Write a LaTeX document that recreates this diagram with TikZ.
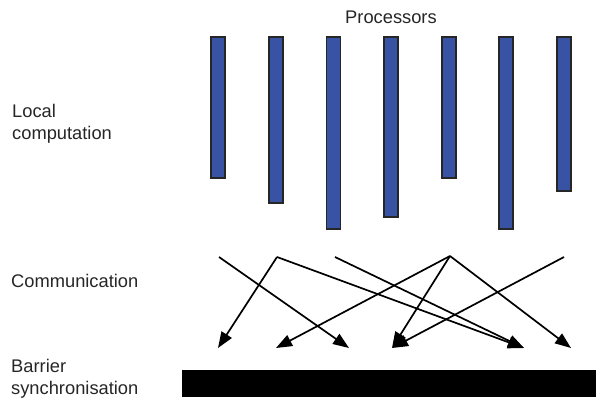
\documentclass[tikz,border=0pt]{standalone}
\usepackage{fontspec}
\setmainfont{Liberation Sans}
\usetikzlibrary{arrows.meta}
\definecolor{procblue}{RGB}{57,83,164}

\begin{document}
\begin{tikzpicture}[x = 1pt, y = -1pt,
	proc/.style = {draw = black!85, line width = 1.2pt, fill = procblue},
	msg/.style = {line width = 1.7pt, -{Triangle[length = 16pt, width = 12pt]}},
	lbl/.style = {anchor = base west, inner sep = 0pt, text = black!85, align = left, font = \fontsize{18.3}{21.5}\selectfont}]

	\useasboundingbox (0, 0) rectangle (596, 404);

	\node[lbl] (title) at (345, 24) {Processors};
	\node[lbl] (local) at (12, 139) {Local\\computation};
	\node[lbl] (comm) at (11, 287) {Communication};
	\node[lbl] (barrier) at (11, 394) {Barrier\\synchronisation};

	\foreach \x/\b in {218/178, 276/203, 333.5/229, 391/217, 449/178, 506/229, 564/191}
		\draw[proc] (\x - 7, 37) rectangle (\x + 7, \b);

	\fill[black] (182, 370) rectangle (596, 397);

	\coordinate (s1) at (219, 257);
	\coordinate (s2) at (277, 257);
	\coordinate (s3) at (335, 257);
	\coordinate (s4) at (450, 256);
	\coordinate (s5) at (564, 257);

	\coordinate (t1) at (218, 348);
	\coordinate (t2) at (276, 348);
	\coordinate (t3) at (349, 348);
	\coordinate (t4) at (392, 348);
	\coordinate (t5) at (524, 348);
	\coordinate (t6) at (571, 348);

	\draw[msg] (s1) -- (t3);
	\draw[msg] (s2) -- (t1);
	\draw[msg] (s2) -- (t5);
	\draw[msg] (s3) -- (t5);
	\draw[msg] (s4) -- (t2);
	\draw[msg] (s4) -- (t4);
	\draw[msg] (s4) -- (t6);
	\draw[msg] (s5) -- (t4);

\end{tikzpicture}
\end{document}
